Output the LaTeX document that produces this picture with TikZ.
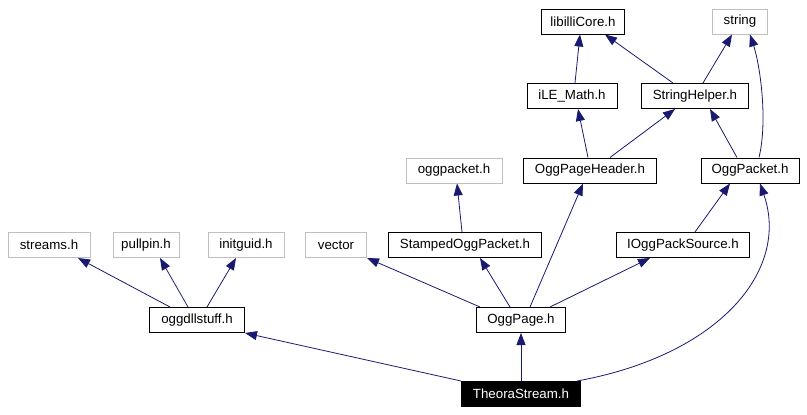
\documentclass[tikz,border=0pt]{standalone}
\usepackage{fontspec}
\setmainfont{Liberation Sans}
\usetikzlibrary{arrows.meta}
\definecolor{edgeblue}{HTML}{191970}
\definecolor{extgray}{HTML}{BFBFBF}

\begin{document}
\begin{tikzpicture}[
  font=\fontsize{13.3}{15}\selectfont,
  x=1pt, y=1pt,
  hdr/.style={draw=black, line width=1pt, minimum height=25pt, inner xsep=0pt, inner ysep=0pt},
  ext/.style={hdr, draw=extgray},
  focus/.style={hdr, fill=black, text=white},
  dep/.style={edgeblue, line width=0.8pt, -{Triangle[length=12pt,width=9pt]}}
]
\useasboundingbox (0,0) rectangle (807,-415);

% ---- row 1 ----
\node[hdr, minimum width=83pt] (libcore) at (583,-21.5) {libilliCore.h};
\node[ext, minimum width=55pt] (string)  at (740,-21.5) {string};

% ---- row 2 ----
\node[hdr, minimum width=90pt]  (ilemath)   at (572,-96) {iLE\_Math.h};
\node[hdr, minimum width=107pt] (strhelper) at (695,-96) {StringHelper.h};

% ---- row 3 ----
\node[ext, minimum width=96pt]  (oggpkt)  at (454,-170.5) {oggpacket.h};
\node[hdr, minimum width=133pt] (pagehdr) at (590,-170.5) {OggPageHeader.h};
\node[hdr, minimum width=98pt]  (packet)  at (750,-170.5) {OggPacket.h};

% ---- row 4 ----
\node[ext, minimum width=82pt]  (streams)  at (49,-245)  {streams.h};
\node[ext, minimum width=66pt]  (pullpin)  at (146,-245) {pullpin.h};
\node[ext, minimum width=76pt]  (initguid) at (246,-245) {initguid.h};
\node[ext, minimum width=61pt]  (vector)   at (336,-245) {vector};
\node[hdr, minimum width=153pt] (stamped)  at (465,-245) {StampedOggPacket.h};
\node[hdr, minimum width=133pt] (packsrc)  at (683,-245) {IOggPackSource.h};

% ---- row 5 ----
\node[hdr, minimum width=95pt] (dllstuff) at (197,-320) {oggdllstuff.h};
\node[hdr, minimum width=89pt] (page)     at (521,-320) {OggPage.h};

% ---- row 6 ----
\node[focus, minimum width=119pt] (theora) at (521,-394) {TheoraStream.h};

% ---- dependencies ----
\draw[dep] ([xshift=3pt]ilemath.north) -- ([xshift=-3pt]libcore.south);
\draw[dep] ([xshift=-22pt]strhelper.north) -- ([xshift=22pt]libcore.south);
\draw[dep] ([xshift=8pt]strhelper.north) -- ([xshift=-8pt]string.south);
\draw[dep] ([xshift=9pt]packet.north) .. controls (768,-120) and (760,-65) .. ([xshift=10pt]string.south);

\draw[dep] ([xshift=-2pt]pagehdr.north) -- ([xshift=6pt]ilemath.south);
\draw[dep] ([xshift=20pt]pagehdr.north) -- ([xshift=-20pt]strhelper.south);
\draw[dep] ([xshift=-13pt]packet.north) -- ([xshift=15pt]strhelper.south);

\draw[dep] ([xshift=-3pt]stamped.north) -- ([xshift=3pt]oggpkt.south);
\draw[dep] ([xshift=12pt]packsrc.north) -- ([xshift=-20pt]packet.south);

\draw[dep] ([xshift=-27pt]dllstuff.north) -- ([xshift=29pt]streams.south);
\draw[dep] ([xshift=-9pt]dllstuff.north) -- ([xshift=14pt]pullpin.south);
\draw[dep] ([xshift=10pt]dllstuff.north) -- ([xshift=-10pt]initguid.south);

\draw[dep] ([xshift=-41pt]page.north) -- (vector.south east);
\draw[dep] ([xshift=-11pt]page.north) -- ([xshift=15pt]stamped.south);
\draw[dep] ([xshift=9pt]page.north) -- ([xshift=-7pt]pagehdr.south);
\draw[dep] ([xshift=29pt]page.north) -- ([xshift=-33pt]packsrc.south);

\draw[dep] (theora.north west) -- (dllstuff.south east);
\draw[dep] (theora.north) -- (page.south);
\draw[dep] ([xshift=56pt]theora.north) .. controls (720,-355) and (790,-270) .. ([xshift=10pt]packet.south);
\end{tikzpicture}
\end{document}
